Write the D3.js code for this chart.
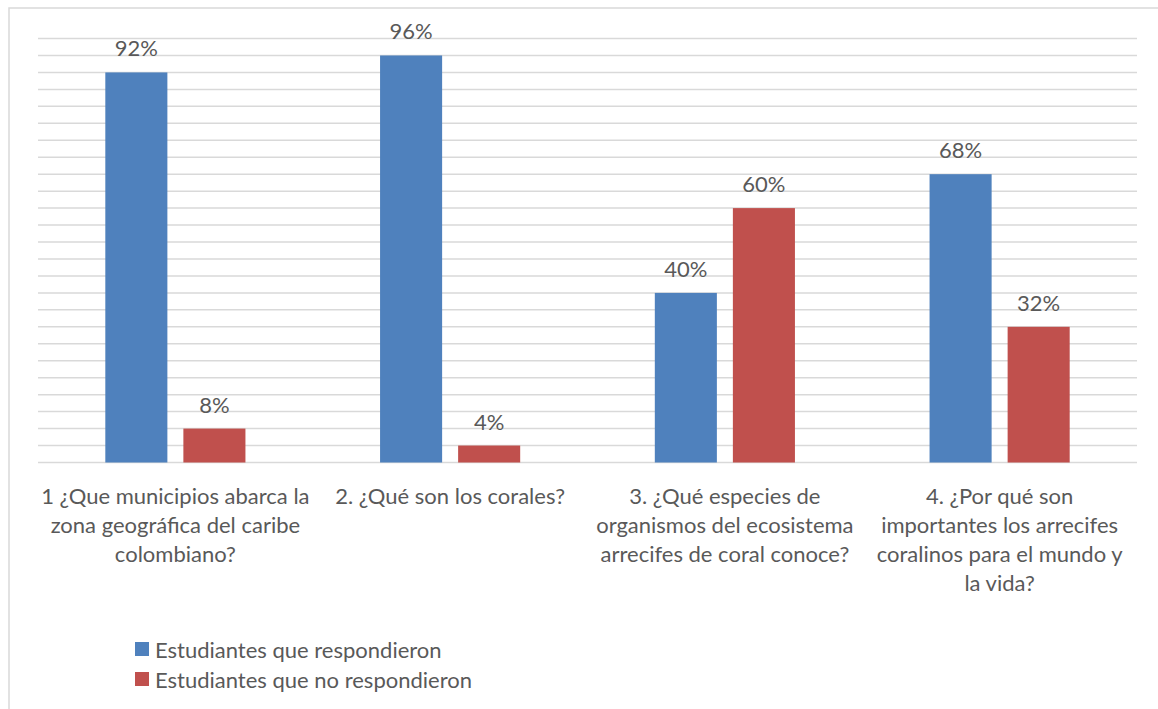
<!DOCTYPE html>
<html>
<head>
<meta charset="utf-8">
<script src="https://cdn.jsdelivr.net/npm/d3@7"></script>
<style>
  html, body { margin: 0; padding: 0; background: #fff; }
  svg { display: block; font-family: Lato, "Open Sans", sans-serif; }
  .lbl { fill: #595959; font-size: 22px; }
  .grid line { stroke: #d9d9d9; stroke-width: 1.5; }
</style>
</head>
<body>
<div id="chart"></div>
<script>
// categorías (ya partidas en líneas como en el original)
const categories = [
  ["1 ¿Que municipios abarca la", "zona geográfica del caribe", "colombiano?"],
  ["2. ¿Qué son los corales?"],
  ["3. ¿Qué especies de", "organismos del ecosistema", "arrecifes de coral conoce?"],
  ["4. ¿Por qué son", "importantes los arrecifes", "coralinos para el mundo y", "la vida?"],
];
const seriesNames = ["Estudiantes que respondieron", "Estudiantes que no respondieron"];
const respondieron = [92, 96, 40, 68];
const noRespondieron = [8, 4, 60, 32];
const colors = ["#4F81BD", "#C0504D"];
const gridTicks = d3.range(0, 101, 4);

const W = 1158, H = 709;
const plot = { left: 38, right: 1137, top: 38.5, bottom: 462.5 };

const svg = d3.select("#chart").append("svg").attr("width", W).attr("height", H);

// borde del área del gráfico (sólo se ven arriba e izquierda)
svg.append("rect")
  .attr("x", 9).attr("y", 8)
  .attr("width", W + 20).attr("height", H + 20)
  .attr("fill", "#fff").attr("stroke", "#d9d9d9").attr("stroke-width", 1.5);

const catIdx = categories.map((d, i) => i);

const x0 = d3.scaleBand()
  .domain(catIdx)
  .range([plot.left, plot.right])
  .paddingInner(0.49)
  .paddingOuter(0.245);

const x1 = d3.scaleBand()
  .domain([0, 1])
  .range([0, x0.bandwidth()])
  .paddingInner(0.205);

const y = d3.scaleLinear().domain([0, 100]).range([plot.bottom, plot.top]);

svg.append("g").attr("class", "grid")
  .selectAll("line")
  .data(gridTicks)
  .join("line")
  .attr("x1", plot.left).attr("x2", plot.right)
  .attr("y1", (d) => y(d)).attr("y2", (d) => y(d));

const rows = catIdx.map((i) => [respondieron[i], noRespondieron[i]]);

const groups = svg.append("g")
  .selectAll("g")
  .data(rows)
  .join("g")
  .attr("transform", (d, i) => `translate(${x0(i)},0)`);

groups.selectAll("rect")
  .data((d) => d.map((v, s) => ({ v, s })))
  .join("rect")
  .attr("x", (d) => x1(d.s))
  .attr("width", x1.bandwidth())
  .attr("y", (d) => y(d.v))
  .attr("height", (d) => y(0) - y(d.v))
  .attr("fill", (d) => colors[d.s]);

groups.selectAll("text")
  .data((d) => d.map((v, s) => ({ v, s })))
  .join("text")
  .attr("class", "lbl")
  .attr("text-anchor", "middle")
  .attr("x", (d) => x1(d.s) + x1.bandwidth() / 2)
  .attr("y", (d) => y(d.v) - 16)
  .text((d) => d.v + "%");

// etiquetas del eje x
const xl = svg.append("g")
  .selectAll("text")
  .data(categories)
  .join("text")
  .attr("class", "lbl")
  .attr("text-anchor", "middle")
  .attr("x", (d, i) => x0(i) + x0.bandwidth() / 2)
  .attr("y", 504);

xl.selectAll("tspan")
  .data((d) => d)
  .join("tspan")
  .attr("x", function () { return d3.select(this.parentNode).attr("x"); })
  .attr("dy", (d, i) => (i === 0 ? 0 : 29))
  .text((d) => d);

// leyenda
const leg = svg.append("g")
  .selectAll("g")
  .data(seriesNames)
  .join("g")
  .attr("transform", (d, i) => `translate(135,${642 + i * 30})`);

leg.append("rect")
  .attr("width", 14).attr("height", 14)
  .attr("fill", (d, i) => colors[i]);

leg.append("text")
  .attr("class", "lbl")
  .attr("x", 20).attr("y", 16)
  .text((d) => d);
</script>
</body>
</html>
